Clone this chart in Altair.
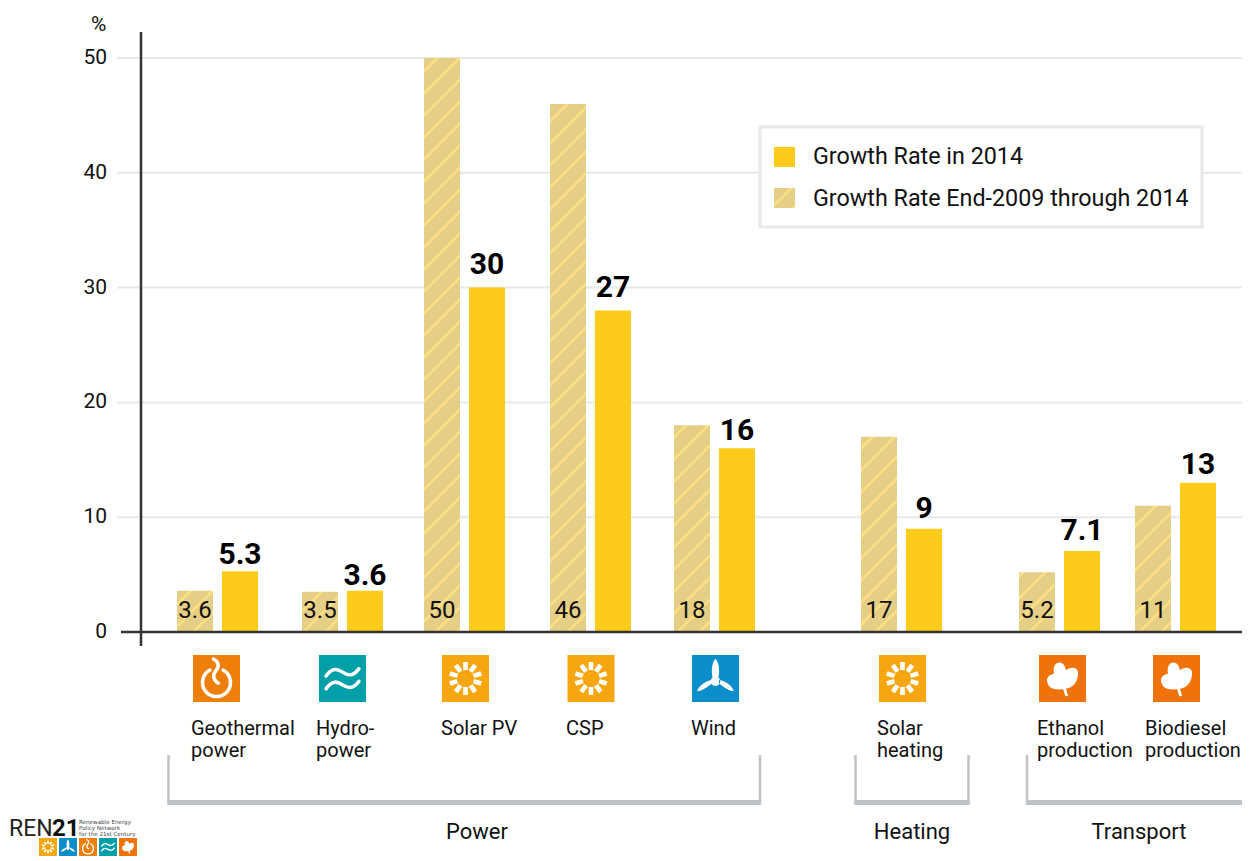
import math
import altair as alt
import pandas as pd

# ---- data ----
categories = ["Geothermal power", "Hydro-power", "Solar PV", "CSP", "Wind",
              "Solar heating", "Ethanol production", "Biodiesel production"]
category_lines = ["Geothermal\npower", "Hydro-\npower", "Solar PV", "CSP", "Wind",
                  "Solar\nheating", "Ethanol\nproduction", "Biodiesel\nproduction"]
rate_2014 = [5.3, 3.6, 30, 28, 16, 9, 7.05, 13]
rate_2014_labels = ["5.3", "3.6", "30", "27", "16", "9", "7.1", "13"]
rate_5yr = [3.6, 3.5, 50, 46, 18, 17, 5.2, 11]
rate_5yr_labels = ["3.6", "3.5", "50", "46", "18", "17", "5.2", "11"]
y_ticks = [0, 10, 20, 30, 40, 50]
groups = ["Power", "Heating", "Transport"]
legend_labels = ["Growth Rate in 2014", "Growth Rate End-2009 through 2014"]

# ---- layout ----
OX, OY = 141, 8            # screen position of the plot origin
W, H = 1234 - 133, 848
PX_PER_UNIT = 11.48
Y0 = 632
RIGHT = 1242
slot_centres = [217.5, 342.5, 464.5, 590.5, 714.5, 901.5, 1059.5, 1175.5]
icon_centres = [216.5, 342.5, 465.5, 591, 715.5, 902.5, 1062.5, 1176.5]
icon_kinds = ["geo", "hydro", "sun", "sun", "wind", "sun", "leaf", "leaf"]
label_dx = [-26.5, -26.5, -23.5, -24.5, -23.5, -24.5, -22.5, -30.5]
label_lift = [7, 6, 14, 14, 8, 11, 11, 9]
group_centres = [477, 912, 1139]
BAR_W, BAR_SHIFT = 36, 22.5
GOLD, TAN, STRIPE = "#fdcb1b", "#e5ce85", "#fbdd84"
INK, GRID, BRACKET = "#111111", "#e8e8e8", "#bfc3c6"
FONT = "Roboto"
ICON_COLOURS = {"geo": "#ee7f0a", "hydro": "#00a0a8", "sun": "#f6a70f",
                "wind": "#0c8ecb", "leaf": "#ef720b"}

sx = alt.Scale(domain=[0, W], range=[0, W], nice=False, zero=False, padding=0)
sy = alt.Scale(domain=[0, 50], range=[Y0 - OY, 58 - OY], nice=False)
xval = lambda v: alt.value(v - OX)
yval = lambda v: alt.value(v - OY)

table = pd.DataFrame({
    "category": categories, "lines": category_lines, "slot": [c - OX for c in slot_centres],
    "r14": rate_2014, "r14l": rate_2014_labels, "r5": rate_5yr, "r5l": rate_5yr_labels,
    "kind": icon_kinds, "zero": [0] * len(categories),
})
X = alt.X("slot:Q", scale=sx, axis=None)


def hatch(left, top, w, h):
    """Diagonal stripes as a hard-stop gradient across a w x h box."""
    period, thick, phase = 22.0, 3.4, 9.7
    span = w + h
    stops = [(0.0, TAN)]
    start = left + top
    k = math.floor((start - phase) / period) - 1
    while True:
        s = k * period + phase
        k += 1
        if s > start + span:
            break
        a, b = (s - start) / span, (s + thick - start) / span
        if b <= 0:
            continue
        a, b = max(a, 0), min(b, 1)
        stops += [(a, TAN), (a, STRIPE), (b, STRIPE), (b, TAN)]
    stops.append((1.0, TAN))
    f = span / (w * w + h * h)
    return alt.Gradient(gradient="linear", x1=0, y1=0, x2=w * f, y2=h * f,
                        stops=[alt.GradientStop(color=c, offset=o) for o, c in stops])


def rays():
    out = []
    for i in range(10):
        a = math.radians(18 + 36 * i)
        c, sn = math.cos(a), math.sin(a)
        r0, r1, hw = 0.36, 0.70, 0.10
        pts = [(r0 * c - hw * sn, r0 * sn + hw * c), (r1 * c - hw * sn, r1 * sn + hw * c),
               (r1 * c + hw * sn, r1 * sn - hw * c), (r0 * c + hw * sn, r0 * sn - hw * c)]
        out.append("M" + "L".join(f"{x:.3f},{y:.3f}" for x, y in pts) + "Z")
    return "".join(out)


SQUARE = "M-1,-1L1,-1L1,1L-1,1Z"
FILL_GLYPH = {
    "sun": rays(),
    "wind": "M-.12,-.02C-.2,-.35 -.14,-.7 0,-.84C.14,-.7 .2,-.35 .12,-.02Z"
            "M-.14,.2C-.4,.42 -.7,.58 -.78,.52C-.7,.3 -.42,.1 -.16,.06Z"
            "M.14,.2C.4,.42 .7,.58 .78,.52C.7,.3 .42,.1 .16,.06Z"
            "M-.2,.12A.2,.2 0 1 1 .2,.12A.2,.2 0 1 1 -.2,.12Z",
    "leaf": "M.12,.44C-.2,.5 -.62,.5 -.66,.1C-.68,-.1 -.45,-.2 -.36,-.2C-.42,-.5 -.3,-.68 -.14,-.68"
            "C.05,-.68 .12,-.5 .15,-.35C.3,-.5 .65,-.52 .66,-.25C.68,.05 .5,.4 .12,.44Z"
            "M.14,.4L.24,.74L.12,.76L.02,.44Z",
}
STROKE_GLYPH = {
    "geo": ["M-.28,-.36A.6,.6 0 1 0 .28,-.36",
            "M-.13,-.83C.12,-.7 .12,-.5 -.03,-.32C-.2,-.12 -.1,.1 .08,.2"],
    "hydro": ["M-.7,-.1C-.45,-.48 -.22,-.42 0,-.27C.22,-.12 .45,-.06 .7,-.42",
              "M-.7,.44C-.45,.06 -.22,.12 0,.27C.22,.42 .45,.48 .7,.12"],
}


def icon(kind, x, y, side):
    """One square icon plus its white glyph."""
    size = side * side
    base = alt.Chart(pd.DataFrame({"k": [kind]}))
    layers = [base.mark_point(shape=SQUARE, size=size, filled=True, color=ICON_COLOURS[kind], opacity=1)
              .encode(x=x, y=y)]
    if kind in FILL_GLYPH:
        layers.append(base.mark_point(shape=FILL_GLYPH[kind], size=size, filled=True, color="white", opacity=1)
                      .encode(x=x, y=y))
    else:
        for g in STROKE_GLYPH[kind]:
            layers.append(base.mark_point(shape=g, size=size, filled=False, stroke="white", opacity=1,
                                          strokeWidth=side * 0.075, strokeCap="round")
                          .encode(x=x, y=y))
    return layers


def hrule(x0, x1, y, colour, width):
    return alt.Chart(pd.DataFrame({"a": [0]})).mark_rule(color=colour, strokeWidth=width).encode(
        x=xval(x0), x2=xval(x1), y=yval(y))


def vrule(x, y0, y1, colour, width):
    return alt.Chart(pd.DataFrame({"a": [0]})).mark_rule(color=colour, strokeWidth=width).encode(
        x=xval(x), y=yval(y0), y2=yval(y1))


def note(text, x, y, size, align="left", weight="normal", colour=INK, font=FONT):
    return alt.Chart(pd.DataFrame({"t": [text]})).mark_text(
        font=font, fontSize=size, align=align, baseline="middle", fontWeight=weight, color=colour
    ).encode(x=xval(x), y=yval(y), text="t:N")


layers = []

# grid and y axis labels
layers.append(
    alt.Chart(pd.DataFrame({"v": y_ticks[1:]})).mark_rule(color=GRID, strokeWidth=2).encode(
        x=xval(117), x2=xval(RIGHT),
        y=alt.Y("v:Q", scale=sy, axis=None))
)
layers.append(
    alt.Chart(pd.DataFrame({"v": y_ticks})).mark_text(
        font=FONT, fontSize=21, align="right", baseline="middle", color=INK
    ).encode(x=xval(107), y=alt.Y("v:Q", scale=sy, axis=None), text="v:Q")
)
layers.append(note("%", 91, 25, 21))

# bars
for i, row in table.iterrows():
    h = row.r5 * PX_PER_UNIT
    left = slot_centres[i] - BAR_SHIFT - BAR_W / 2
    layers.append(
        alt.Chart(table.iloc[[i]]).mark_bar(width=BAR_W, xOffset=-BAR_SHIFT,
                                            fill=hatch(left, Y0 - h, BAR_W, h)).encode(
            x=X, y=alt.Y("r5:Q", scale=sy, axis=None), y2=alt.datum(0))
    )
layers.append(
    alt.Chart(table).mark_bar(width=BAR_W, xOffset=BAR_SHIFT, color=GOLD).encode(
        x=X, y=alt.Y("r14:Q", scale=sy, axis=None), y2=alt.datum(0))
)

# value labels
layers.append(
    alt.Chart(table).mark_text(font=FONT, fontSize=24, xOffset=-BAR_SHIFT, baseline="middle",
                               color=INK, dy=-21).encode(
        x=X, y=alt.Y("zero:Q", scale=sy, axis=None), text="r5l:N")
)
for i, row in table.iterrows():
    layers.append(
        alt.Chart(table.iloc[[i]]).mark_text(font=FONT, fontSize=30, fontWeight="bold", xOffset=BAR_SHIFT,
                                             baseline="alphabetic", color="black", dy=-label_lift[i]).encode(
            x=X, y=alt.Y("r14:Q", scale=sy, axis=None), text="r14l:N")
    )

# axes
layers.append(vrule(141, 32, 646, "#333333", 2.5))
layers.append(hrule(121, RIGHT, 632, "#333333", 2.5))

# category icons and names
for i, kind in enumerate(icon_kinds):
    layers += icon(kind, xval(icon_centres[i]), yval(678.5), 47)
for i, row in table.iterrows():
    layers.append(
        alt.Chart(table.iloc[[i]]).mark_text(font=FONT, fontSize=20, align="left", baseline="middle", color=INK,
                                             lineBreak="\n", lineHeight=22, xOffset=label_dx[i]).encode(
            x=X, y=yval(729), text="lines:N")
    )

# brackets
for x0, x1 in [(168.5, 760), (855.5, 968.5)]:
    layers += [vrule(x0, 755, 805, BRACKET, 2.5), vrule(x1, 755, 805, BRACKET, 2.5),
               hrule(x0 - 1, x1 + 1, 802.5, BRACKET, 5)]
layers += [vrule(1027, 755, 805, BRACKET, 2.5), hrule(1026, RIGHT, 802.5, BRACKET, 5)]
for name, c in zip(groups, group_centres):
    layers.append(note(name, c, 832, 22, align="center"))

# legend box
layers.append(
    alt.Chart(pd.DataFrame({"a": [0]})).mark_rect(fill="white", stroke=GRID, strokeWidth=3).encode(
        x=xval(760), x2=xval(1202), y=yval(127), y2=yval(227))
)
layers.append(
    alt.Chart(pd.DataFrame({"a": [0]})).mark_rect(fill=GOLD).encode(
        x=xval(774), x2=xval(795), y=yval(147), y2=yval(167))
)
layers.append(
    alt.Chart(pd.DataFrame({"a": [0]})).mark_rect(fill=hatch(774, 188, 21, 20)).encode(
        x=xval(774), x2=xval(795), y=yval(188), y2=yval(208))
)
layers.append(note(legend_labels[0], 813, 157, 23.3))
layers.append(note(legend_labels[1], 813, 199, 23.3))

# REN21 logo
layers.append(note("REN", 9, 829, 23, colour="#222222"))
layers.append(note("21", 52, 829, 24, weight="bold", colour="#111111"))
for text, y in [("Renewable Energy", 822), ("Policy Network", 828), ("for the 21st Century", 834)]:
    layers.append(note(text, 79, y, 5.6, colour="#444444", font="DejaVu Sans"))
for kind, c in zip(["sun", "wind", "geo", "hydro", "leaf"], [48, 68, 88, 108, 128]):
    layers += icon(kind, xval(c), yval(847), 18)

chart = alt.layer(*layers).properties(
    width=W, height=H,
    padding={"left": 133, "top": 0, "right": 0, "bottom": 0},
    autosize=alt.AutoSizeParams(type="none"),
).configure_view(stroke=None)

chart.save("out.html", embed_options={"renderer": "svg", "actions": False})
